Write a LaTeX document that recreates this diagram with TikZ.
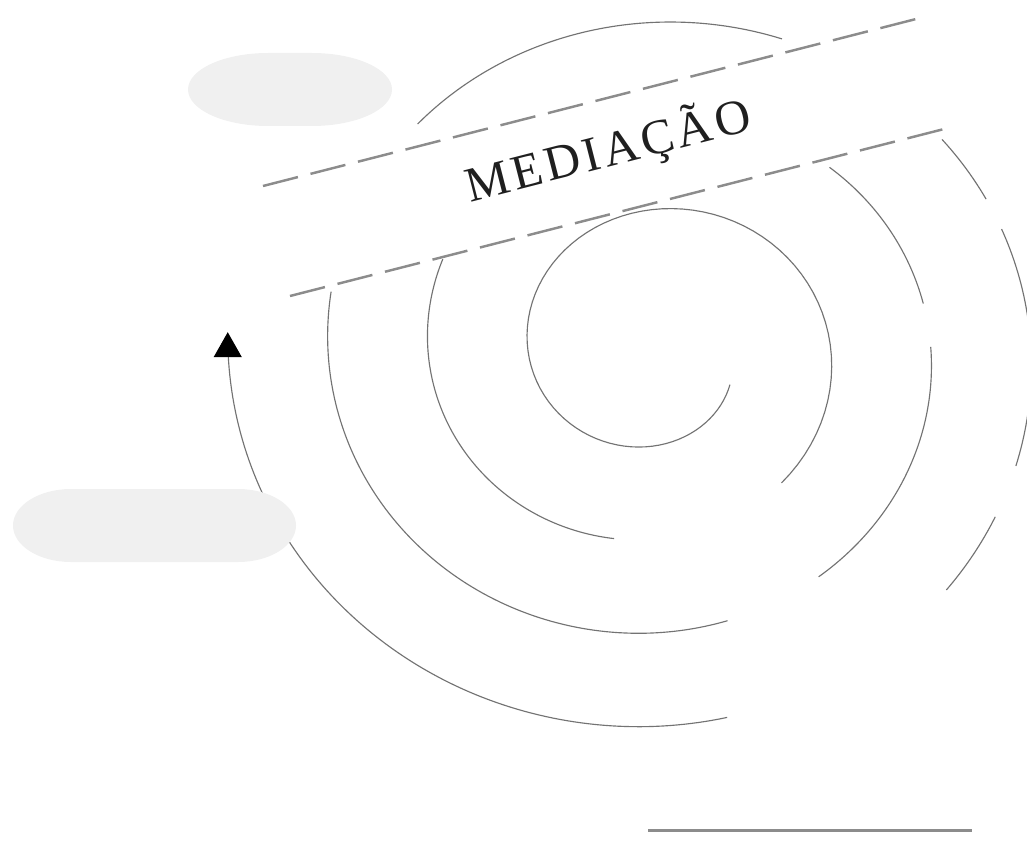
\documentclass[tikz,border=0pt]{standalone}
\usepackage{fontspec}
\setmainfont{Liberation Serif}
\usetikzlibrary{arrows.meta}

\begin{document}
\begin{tikzpicture}[
  x=0.02cm, y=0.02cm,
  declare function={spr(\a)=101.5+(270-\a)/3.6;},
  % Spiral strokes
  spiral/.style={draw=black!55, line width=0.65pt},
  % Dashed borders of the band
  bandline/.style={draw=black!45, line width=1.4pt, dash pattern=on 20.5pt off 7.4pt},
  % Grey blobs
  blob/.style={fill=black!6, draw=none},
  % Band label
  bandlabel/.style={font=\fontsize{28}{32}\selectfont\addfontfeature{LetterSpace=8},
    text=black!88, inner sep=0pt}
]
\useasboundingbox (0,0) rectangle (1027,840);

% === SPIRAL ===
\begin{scope}
  \clip (0,0) rectangle (1027,840);
  \foreach \from/\to in {334.5/-48, -101.4/-204.9, -311.7/-349.3, -359.1/-415.8,
      -435.8/-551.1, -585.7/-650.9, -681.8/-693.9, -699.4/-738.8, -747.5/-761.2}
    \draw[spiral] plot[domain=\from:\to, samples=100, variable=\t]
      ({654.5+spr(\t)*cos(\t)}, {489+0.935*spr(\t)*sin(\t)});
  % outer turn with arrow
  \draw[spiral, -{Triangle[length=5mm, width=5.6mm, color=black]}]
    plot[domain=-799.5:-902.7, samples=100, variable=\t]
      ({654.5+spr(\t)*cos(\t)}, {489+0.935*spr(\t)*sin(\t)});
\end{scope}

% === BLOBS ===
\fill[blob] (268,714) -- (312,714)
  arc[start angle=-90, end angle=90, x radius=80, y radius=36.5] -- (268,787)
  arc[start angle=90, end angle=270, x radius=80, y radius=36.5] -- cycle;
\fill[blob] (71,278) -- (238,278)
  arc[start angle=-90, end angle=90, x radius=58, y radius=36.5] -- (71,351)
  arc[start angle=90, end angle=270, x radius=58, y radius=36.5] -- cycle;

% === BAND ===
\coordinate (upA) at (263,654);
\coordinate (upB) at (920,822);
\coordinate (loA) at (290,544);
\coordinate (loB) at (948,712);
\draw[bandline] (upA) -- (upB);
\draw[bandline] (loA) -- (loB);
\node[bandlabel, rotate=14.35] (mediacao) at (608,689) {MEDIAÇÃO};

% === BASE LINE ===
\coordinate (baseA) at (648,9.3);
\coordinate (baseB) at (972,9.3);
\draw[black!45, line width=1.4pt] (baseA) -- (baseB);

\end{tikzpicture}
\end{document}
